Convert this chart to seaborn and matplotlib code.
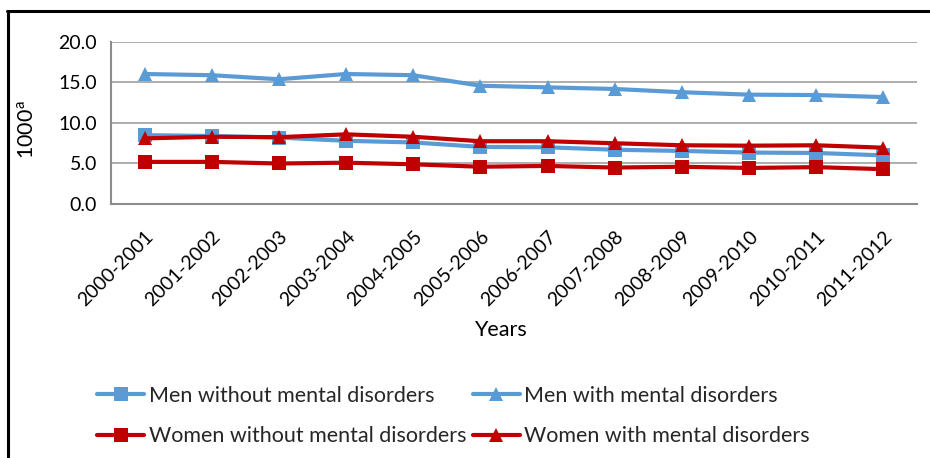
import matplotlib
matplotlib.use("Agg")
import matplotlib.pyplot as plt
import seaborn as sns
import pandas as pd
import numpy as np
from matplotlib.lines import Line2D
from matplotlib.ticker import FormatStrFormatter, FixedLocator

years = ["2000-2001", "2001-2002", "2002-2003", "2003-2004", "2004-2005", "2005-2006",
         "2006-2007", "2007-2008", "2008-2009", "2009-2010", "2010-2011", "2011-2012"]
men_without = [8.5, 8.4, 8.2, 7.8, 7.6, 7.05, 7.0, 6.7, 6.55, 6.35, 6.3, 6.0]
men_with = [16.05, 15.9, 15.4, 16.05, 15.9, 14.6, 14.4, 14.2, 13.8, 13.5, 13.45, 13.2]
women_without = [5.2, 5.2, 5.0, 5.1, 4.9, 4.6, 4.7, 4.5, 4.6, 4.45, 4.55, 4.3]
women_with = [8.1, 8.3, 8.25, 8.6, 8.3, 7.75, 7.75, 7.5, 7.25, 7.2, 7.25, 6.95]

series_names = ["Men without mental disorders", "Men with mental disorders",
                "Women without mental disorders", "Women with mental disorders"]
series_values = [men_without, men_with, women_without, women_with]

rows = []
for name, vals in zip(series_names, series_values):
    for i, v in enumerate(vals):
        rows.append({"idx": i, "Years": years[i], "value": v, "series": name})
df = pd.DataFrame(rows)

sns.set_theme(style="white")
plt.rcParams["font.family"] = ["Lato", "DejaVu Sans"]

BLUE = "#5B9BD5"
RED = "#C00000"
palette = {series_names[0]: BLUE, series_names[1]: BLUE,
           series_names[2]: RED, series_names[3]: RED}
markers = {series_names[0]: "s", series_names[1]: "^",
           series_names[2]: "s", series_names[3]: "^"}

fig = plt.figure(figsize=(9.3, 4.58), dpi=100)
ax = fig.add_axes([111 / 930, 1 - 204 / 458, 806 / 930, 162 / 458])

sns.lineplot(data=df, x="idx", y="value", hue="series", style="series",
             palette=palette, markers=markers, dashes=False, linewidth=3,
             markersize=10, markeredgewidth=0, ax=ax, legend=False,
             hue_order=series_names, style_order=series_names)

ax.set_xlim(-0.5, len(years) - 0.5)
ax.set_ylim(0, 20)
ax.set_yticks([0, 5, 10, 15, 20])
ax.yaxis.set_major_formatter(FormatStrFormatter("%.1f"))
ax.set_xticks(np.arange(len(years)))
ax.set_xticklabels(years, rotation=45, ha="right", rotation_mode="anchor")
ax.xaxis.set_minor_locator(FixedLocator(np.arange(len(years) + 1) - 0.5))
ax.tick_params(axis="x", which="major", length=0, pad=17, labelsize=14, colors="black")
ax.tick_params(axis="x", which="minor", length=6, width=1.2, color="#8C8C8C")
ax.tick_params(axis="y", which="major", length=6, width=1.2, color="#8C8C8C",
               labelsize=14, labelcolor="black", pad=4)
ax.yaxis.grid(True, color="#A0A0A0", linewidth=1.2)
ax.xaxis.grid(False)
for s in ["top", "right"]:
    ax.spines[s].set_visible(False)
for s in ["left", "bottom"]:
    ax.spines[s].set_color("#8C8C8C")
    ax.spines[s].set_linewidth(1.5)
ax.set_axisbelow(True)

ax.set_xlabel("Years", fontsize=15.5, color="black")
ax.xaxis.set_label_coords((500 - 111) / 806, (204 - 330) / 162)
ax.xaxis.label.set_va("center")
ax.set_ylabel("1000$^{\\mathregular{a}}$", fontsize=15.5, color="black")
ax.yaxis.set_label_coords((27 - 111) / 806, (204 - 130) / 162)
ax.yaxis.label.set_va("center")

handles = [Line2D([], [], color=palette[n], marker=markers[n], linewidth=3,
                  markersize=10, markeredgewidth=0) for n in series_names]
order = [0, 2, 1, 3]
fig.legend([handles[i] for i in order], [series_names[i] for i in order],
           loc="upper left", ncol=2, frameon=False,
           bbox_to_anchor=(97 / 930, 1 - 386 / 458), fontsize=15.5,
           handlelength=2.2, handletextpad=0.2, columnspacing=0.3,
           labelspacing=0.95, borderpad=0, borderaxespad=0)

# outer frame
fig.add_artist(Line2D([8 / 930, 8 / 930], [0, 1 - 11 / 458], color="black",
                      linewidth=2.2, transform=fig.transFigure))
fig.add_artist(Line2D([7 / 930, 1], [1 - 11 / 458, 1 - 11 / 458], color="black",
                      linewidth=2.2, transform=fig.transFigure))

fig.savefig("out.png", dpi=100)
